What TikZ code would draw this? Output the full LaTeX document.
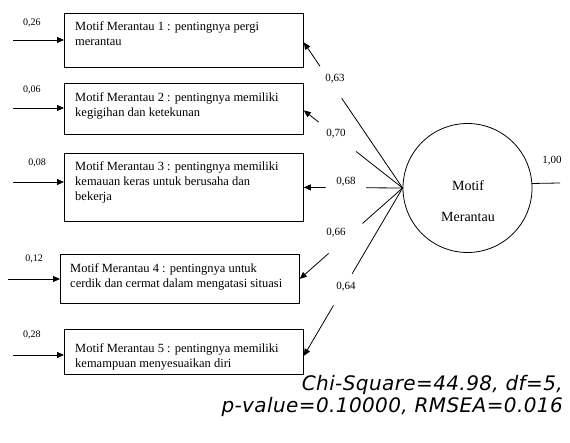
\documentclass[tikz,border=0pt]{standalone}
\usepackage{fontspec}
\setmainfont{Liberation Serif}
\newfontfamily\statfont[LetterSpace=2]{DejaVu Sans}
\usetikzlibrary{arrows.meta,calc}
\begin{document}
\begin{tikzpicture}[x=1pt,y=-1pt,
  every node/.style={inner sep=0pt},
  box/.style={draw, line width=0.8pt, anchor=north west},
  boxtext/.style={anchor=north west, align=left, font=\fontsize{12.5}{15}\selectfont},
  err/.style={font=\fontsize{10}{11}\selectfont},
  load/.style={font=\fontsize{11}{12}\selectfont},
  arr/.style={line width=0.8pt, -{Triangle[length=7pt,width=6pt]}},
  ln/.style={line width=0.8pt}]
\useasboundingbox (0,0) rectangle (570,443);

% boxes
\node[box, minimum width=239pt, minimum height=54pt] (b1) at (64,13) {};
\node[box, minimum width=239pt, minimum height=51pt] (b2) at (64,83) {};
\node[box, minimum width=239pt, minimum height=68pt] (b3) at (64,153) {};
\node[box, minimum width=239pt, minimum height=49pt] (b4) at (60,254) {};
\node[box, minimum width=239pt, minimum height=45pt] (b5) at (64,329) {};

\node[boxtext] (t1) at (75,22) {Motif Merantau 1 : pentingnya pergi\\merantau};
\node[boxtext] (t2) at (75,93) {Motif Merantau 2 : pentingnya memiliki\\kegigihan dan ketekunan};
\node[boxtext] (t3) at (75,162) {Motif Merantau 3 : pentingnya memiliki\\kemauan keras untuk berusaha dan\\bekerja};
\node[boxtext] (t4) at (70,263) {Motif Merantau 4 : pentingnya untuk\\cerdik dan cermat dalam mengatasi situasi};
\node[boxtext] (t5) at (75,343) {Motif Merantau 5 : pentingnya memiliki\\kemampuan menyesuaikan diri};

% error arrows
\coordinate (e1) at (13,40);
\coordinate (e2) at (13,108);
\coordinate (e3) at (13,182);
\coordinate (e4) at (8,279);
\coordinate (e5) at (13,355);
\draw[arr] (e1) -- (e1 -| b1.west);
\draw[arr] (e2) -- (e2 -| b2.west);
\draw[arr] (e3) -- (e3 -| b3.west);
\draw[arr] (e4) -- (e4 -| b4.west);
\draw[arr] (e5) -- (e5 -| b5.west);
\node[err] (v1) at (32,23) {0,26};
\node[err] (v2) at (32,90) {0,06};
\node[err] (v3) at (37,163) {0,08};
\node[err] (v4) at (34,259) {0,12};
\node[err] (v5) at (32,335) {0,28};

% latent
\node[draw, circle, line width=0.8pt, minimum size=129pt] (M) at (467.5,188) {};
\node[align=center, font=\fontsize{14}{31}\selectfont] (Mt) at (468,201) {Motif\\Merantau};
\coordinate (r) at (560,183);
\draw[ln] (M.4.4) -- (r);
\node[load] (l0) at (552,161) {1,00};

% tips
\coordinate (p1) at ([yshift=-2pt]b1.east);
\coordinate (p2) at ([yshift=-1.5pt]b2.east);
\coordinate (p3) at (b3.east);
\coordinate (p4) at (b4.east);
\coordinate (p5) at ([yshift=-4pt]b5.east);

% loadings with gaps
\coordinate (g1a) at ($(M.west)!0.616!(p1)$);
\coordinate (g1b) at ($(M.west)!0.836!(p1)$);
\coordinate (g2a) at ($(M.west)!0.47!(p2)$);
\coordinate (g2b) at ($(M.west)!0.85!(p2)$);
\coordinate (g3a) at ($(M.west)!0.37!(p3)$);
\coordinate (g3b) at ($(M.west)!0.78!(p3)$);
\coordinate (g4a) at ($(M.west)!0.39!(p4)$);
\coordinate (g4b) at ($(M.west)!0.72!(p4)$);
\coordinate (g5a) at ($(M.west)!0.51!(p5)$);
\coordinate (g5b) at ($(M.west)!0.70!(p5)$);
\draw[ln] (M.west) -- (g1a);
\draw[arr] (g1b) -- (p1);
\draw[ln] (M.west) -- (g2a);
\draw[arr] (g2b) -- (p2);
\draw[ln] (M.west) -- (g3a);
\draw[arr] (g3b) -- (p3);
\draw[ln] (M.west) -- (g4a);
\draw[arr] (g4b) -- (p4);
\draw[ln] (M.west) -- (g5a);
\draw[arr] (g5b) -- (p5);
\node[load] (l1) at (335,79) {0,63};
\node[load] (l2) at (336,134) {0,70};
\node[load] (l3) at (346,182) {0,68};
\node[load] (l4) at (336,233) {0,66};
\node[load] (l5) at (346,287) {0,64};

% fit statistics
\node[align=right, anchor=east, font=\statfont\itshape\fontsize{20}{22}\selectfont] (fit) at (563,396) {Chi-Square=44.98, df=5,\\p-value=0.10000, RMSEA=0.016};
\end{tikzpicture}
\end{document}
